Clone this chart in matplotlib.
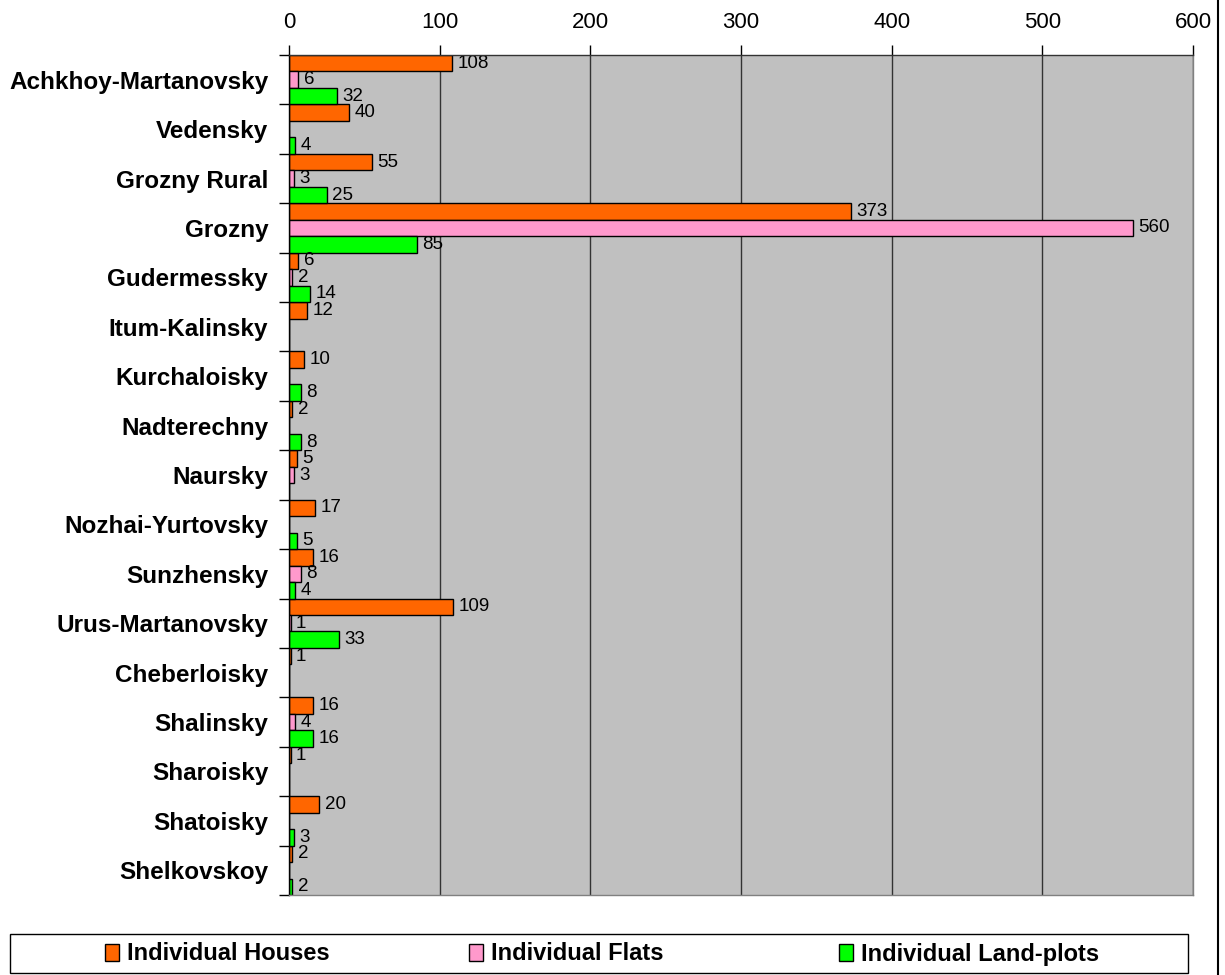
import matplotlib
matplotlib.use("Agg")
import matplotlib.pyplot as plt
import numpy as np
from matplotlib.patches import Rectangle, Patch
from matplotlib.lines import Line2D

plt.rcParams['font.family'] = ['Liberation Sans', 'DejaVu Sans']

districts = ["Achkhoy-Martanovsky", "Vedensky", "Grozny Rural", "Grozny", "Gudermessky",
             "Itum-Kalinsky", "Kurchaloisky", "Nadterechny", "Naursky", "Nozhai-Yurtovsky",
             "Sunzhensky", "Urus-Martanovsky", "Cheberloisky", "Shalinsky", "Sharoisky",
             "Shatoisky", "Shelkovskoy"]
houses = [108, 40, 55, 373, 6, 12, 10, 2, 5, 17, 16, 109, 1, 16, 1, 20, 2]
flats = [6, 0, 3, 560, 2, 0, 0, 0, 3, 0, 8, 1, 0, 4, 0, 0, 0]
landplots = [32, 4, 25, 85, 14, 0, 8, 8, 0, 5, 4, 33, 0, 16, 0, 3, 2]
series_names = ["Individual Houses", "Individual Flats", "Individual Land-plots"]
colors = ["#FF6600", "#FF99CC", "#00FF00"]
xticks = [0, 100, 200, 300, 400, 500, 600]

W, H = 1225, 975
fig = plt.figure(figsize=(W / 100, H / 100), dpi=100)
ax = fig.add_axes([289 / W, 1 - 895 / H, (1193 - 289) / W, (895 - 55) / H])
ax.set_facecolor("#C0C0C0")

n = len(districts)
y = np.arange(n)
bh = 1 / 3
for k, (vals, col) in enumerate(zip([houses, flats, landplots], colors)):
    pos = y + (k - 1) * bh
    bars = ax.barh(pos, vals, height=bh, color=col, edgecolor="black", linewidth=1.0, zorder=3)
    labels = [str(v) if v else "" for v in vals]
    ax.bar_label(bars, labels=labels, padding=4, fontsize=13.5, color="black", zorder=4)

ax.set_xlim(0, 600)
ax.set_ylim(n - 0.5, -0.5)
ax.xaxis.tick_top()
ax.set_xticks(xticks)
ax.set_xticklabels([str(t) for t in xticks], fontsize=16)
ax.tick_params(axis="x", direction="out", length=7, width=1, pad=9, color="black")
ax.grid(axis="x", color="#333333", linewidth=1, zorder=1)

ax.set_yticks(np.arange(-0.5, n + 0.5, 1))
ax.set_yticklabels([])
ax.set_yticks(y, minor=True)
ax.set_yticklabels(districts, minor=True, fontsize=17.5, fontweight="bold")
ax.tick_params(axis="y", which="major", direction="out", length=7, width=1, color="black")
ax.tick_params(axis="y", which="minor", length=0, pad=15)

ax.spines["left"].set_color("black")
ax.spines["top"].set_color("#333333")
ax.spines["right"].set_color("#808080")
ax.spines["bottom"].set_color("#808080")
for s in ax.spines.values():
    s.set_linewidth(1)
    s.set_zorder(5)

# legend frame
fig.add_artist(Rectangle((10 / W, 1 - 973 / H), (1188 - 10) / W, (973 - 934) / H,
                         transform=fig.transFigure, facecolor="white", edgecolor="black",
                         linewidth=1))
leg_x = [105 / W, 469 / W, 839 / W]
for name, col, lx in zip(series_names, colors, leg_x):
    h = Patch(facecolor=col, edgecolor="black", linewidth=1)
    fig.legend(handles=[h], labels=[name], loc="center left",
               bbox_to_anchor=(lx, 1 - 954 / H), frameon=False,
               prop={"size": 17, "weight": "bold"}, handlelength=0.6, handleheight=0.75,
               handletextpad=0.35, borderaxespad=0, borderpad=0)

fig.add_artist(Line2D([1218 / W, 1218 / W], [0, 1], transform=fig.transFigure,
                      color="black", linewidth=1.5))

fig.savefig("out.png", dpi=100)
